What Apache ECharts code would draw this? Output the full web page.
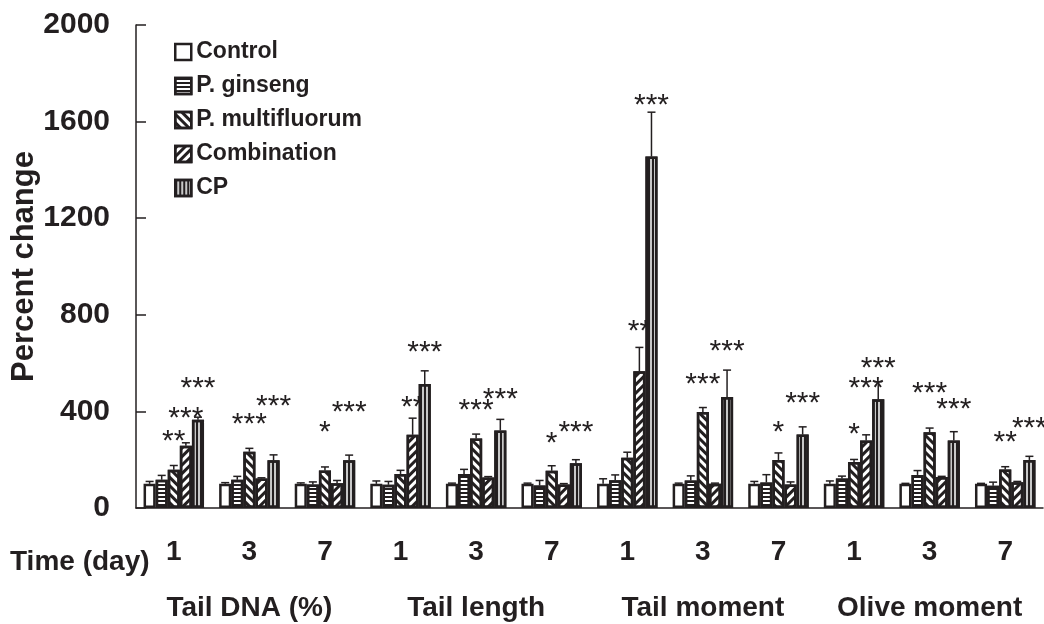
<!DOCTYPE html>
<html>
<head>
<meta charset="utf-8">
<script src="https://cdn.jsdelivr.net/npm/echarts@6/dist/echarts.min.js"></script>
<style>html,body{margin:0;padding:0;background:#fff}#c{width:1044px;height:624px}</style>
</head>
<body>
<div id="c"></div>
<script>
const categories = ['1','3','7','1','3','7','1','3','7','1','3','7'];
const groups = ['Tail DNA (%)','Tail length','Tail moment','Olive moment'];
const seriesNames = ['Control','P. ginseng','P. multifluorum','Combination','CP'];
const yTicks = [0, 400, 800, 1200, 1600, 2000];

const control    = [100,100,100,100,100,100,100,100,100,100,100,100];
const controlErr = [10,5,4,12,3,3,21,3,10,12,2,2];
const ginseng    = [117,117,97,96,141,93,115,114,106,122,137,92];
const ginsengErr = [18,14,11,14,19,21,22,19,32,10,18,15];
const multi      = [158,233,155,141,288,154,208,398,199,190,314,159];
const multiErr   = [18,14,15,15,18,21,23,18,29,11,17,12];
const combo      = [258,122,103,303,126,97,566,100,97,279,128,107];
const comboErr   = [12,3,11,69,4,4,99,3,11,24,3,3];
const cp         = [365,198,198,513,321,185,1455,460,304,450,279,199];
const cpErr      = [11,22,21,55,46,15,184,111,32,73,37,15];

const sigCat    = [0,0,0,1,1,2,2,3,3,4,4,5,5,6,6,7,7,8,8,9,9,9,10,10,11,11];
const sigSeries = [2,3,4,2,4,2,4,3,4,2,4,2,4,3,4,2,4,2,4,2,3,4,2,4,2,4];
const sigY      = [298,395,517,370,444,337,419,440,668,426,475,291,337,753,1692,534,671,337,458,327,519,603,498,431,295,353];
const sigText   = ['**','***','***','***','***','*','***','**','***','***','***','*','***','**','***','***','***','*','***','*','***','***','***','***','**','***'];

const values = [control, ginseng, multi, combo, cp];
const errors = [controlErr, ginsengErr, multiErr, comboErr, cpErr];

const FONT = "'Liberation Sans', Arial, Helvetica, sans-serif";
const INK = '#231f20';
const CAT_GAP = 0.2;

const decals = [
  null,
  {symbol:'rect', dashArrayX:[1,0], dashArrayY:[2,2], rotation:0, color:INK, symbolSize:1},
  {symbol:'rect', dashArrayX:[1,0], dashArrayY:[3,3], rotation:Math.PI/4, color:INK, symbolSize:1},
  {symbol:'rect', dashArrayX:[1,0], dashArrayY:[3,3], rotation:-Math.PI/4, color:INK, symbolSize:1},
  {symbol:'rect', dashArrayX:[2,2], dashArrayY:[1,0], rotation:0, color:INK, symbolSize:1}
];
const fills = ['#ffffff','#ffffff','#ffffff','#ffffff','#c8c8c8'];

const series = [];
values.forEach((vals, s) => {
  const itemStyle = {color: fills[s], borderColor: INK, borderWidth: 2.5};
  if (decals[s]) itemStyle.decal = decals[s];
  series.push({
    name: seriesNames[s], type: 'bar', data: vals, barGap: '0%', barCategoryGap: (CAT_GAP*100)+'%',
    itemStyle: itemStyle, z: 3, emphasis: {disabled: true}
  });
});

// error bars
values.forEach((vals, s) => {
  series.push({
    type: 'custom', z: 4, silent: true,
    data: vals.map((v, i) => [i, v, errors[s][i]]),
    renderItem: function (params, api) {
      const i = api.value(0), v = api.value(1), e = api.value(2);
      const base = api.coord([i, v]);
      const top = api.coord([i, v + e]);
      const band = api.size([1, 0])[0];
      const bw = band * (1 - CAT_GAP) / 5;
      const x = base[0] + (s - 2) * bw;
      return {type: 'group', children: [
        {type: 'line', shape: {x1: x, y1: base[1], x2: x, y2: top[1]}, style: {stroke: INK, lineWidth: 1.5}},
        {type: 'line', shape: {x1: x - 4, y1: top[1], x2: x + 4, y2: top[1]}, style: {stroke: INK, lineWidth: 1.5}}
      ]};
    }
  });
});

// significance marks
series.push({
  type: 'custom', z: 2, silent: true,
  data: sigCat.map((c, k) => [c, sigY[k], sigSeries[k]]),
  renderItem: function (params, api) {
    const c = api.value(0), y = api.value(1), s = api.value(2);
    const p = api.coord([c, y]);
    const band = api.size([1, 0])[0];
    const bw = band * (1 - CAT_GAP) / 5;
    return {type: 'text', x: p[0] + (s - 2) * bw, y: p[1] + 6,
      style: {text: sigText[params.dataIndex], font: "normal 30px " + FONT, fill: INK, align: 'center', verticalAlign: 'middle'}};
  }
});

const chart = echarts.init(document.getElementById('c'), null, {renderer: 'canvas'});
chart.setOption({
  animation: false,
  backgroundColor: '#fff',
  grid: {left: 136, right: 1, top: 25, bottom: 116, containLabel: false, outerBoundsMode: 'none'},
  legend: {
    data: seriesNames, orient: 'vertical', left: 174, top: 40, padding: 0,
    itemWidth: 16, itemHeight: 16, itemGap: 10, icon: 'rect',
    itemStyle: {borderWidth: 2.5, borderColor: INK},
    textStyle: {fontFamily: FONT, fontWeight: 'bold', fontSize: 23, color: INK, lineHeight: 24},
    selectedMode: false
  },
  xAxis: [
    {type: 'category', data: categories, axisLine: {show: true, lineStyle: {color: INK, width: 1.5}},
     axisTick: {show: false}, axisLabel: {interval: 0, fontFamily: FONT, fontWeight: 'bold', fontSize: 28, color: INK, margin: 30}},
    {type: 'category', data: groups, position: 'bottom', offset: 60, axisLine: {show: false}, axisTick: {show: false},
     axisLabel: {interval: 0, fontFamily: FONT, fontWeight: 'bold', fontSize: 28, color: INK, margin: 26}}
  ],
  yAxis: {
    type: 'value', min: yTicks[0], max: yTicks[yTicks.length - 1], interval: yTicks[1] - yTicks[0],
    name: 'Percent change', nameLocation: 'middle', nameGap: 96, nameMoveOverlap: false,
    nameTextStyle: {fontFamily: FONT, fontWeight: 'bold', fontSize: 31, color: INK},
    axisLine: {show: true, lineStyle: {color: INK, width: 1.5}},
    axisTick: {show: true, inside: true, length: 10, lineStyle: {color: INK, width: 1.5}},
    axisLabel: {formatter: function (v) { return String(v); }, fontFamily: FONT, fontWeight: 'bold', fontSize: 30, color: INK, margin: 26},
    splitLine: {show: false}
  },
  graphic: [{type: 'text', left: 10, top: 548,
    style: {text: 'Time (day)', font: "bold 28px " + FONT, fill: INK}}],
  series: series
});
</script>
</body>
</html>
